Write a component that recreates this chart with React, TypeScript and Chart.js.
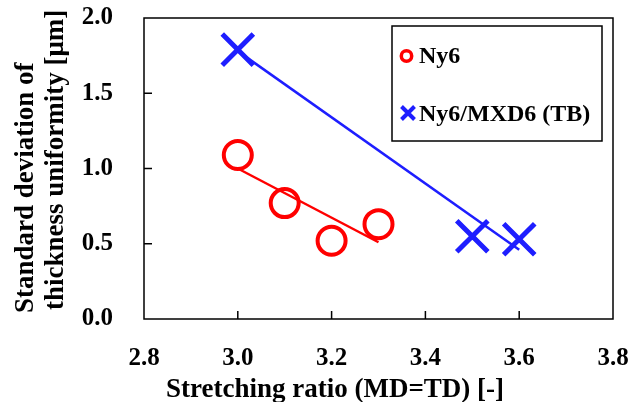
import React, { useEffect, useRef } from 'react';
import { Chart, registerables } from 'chart.js';

Chart.register(...registerables);

// ---- data ----
const ny6X = [3.0, 3.1, 3.2, 3.3];
const ny6Y = [1.09, 0.77, 0.52, 0.63];
const mxdX = [3.0, 3.5, 3.6];
const mxdY = [1.79, 0.55, 0.53];
const ny6TrendX = [3.0, 3.3];
const ny6TrendY = [1.0, 0.51];
const mxdTrendX = [3.0, 3.6];
const mxdTrendY = [1.78, 0.46];
const seriesLabels = ['Ny6', 'Ny6/MXD6 (TB)'];
const xTicks = [2.8, 3.0, 3.2, 3.4, 3.6, 3.8];
const yTicks = [0.0, 0.5, 1.0, 1.5, 2.0];
const xTitle = 'Stretching ratio (MD=TD) [-]';
const yTitle = ['Standard deviation of', 'thickness uniformity [μm]'];

const RED = 'rgb(255,0,0)';
const BLUE = 'rgb(30,30,255)';
const FONT = '"Liberation Serif", "Times New Roman", serif';

const zip = (xs: number[], ys: number[]) => xs.map((x, i) => ({ x, y: ys[i] }));

const decorPlugin = {
  id: 'decor',
  afterDraw(chart: any) {
    const { ctx, chartArea: a, scales } = chart;
    const xs = scales.x;
    const ys = scales.y;
    ctx.save();
    // frame
    ctx.strokeStyle = '#000';
    ctx.lineWidth = 1.5;
    ctx.strokeRect(a.left, a.top, a.right - a.left, a.bottom - a.top);
    // inward ticks
    const tl = 8;
    ctx.beginPath();
    xTicks.forEach((v) => {
      const px = xs.getPixelForValue(v);
      if (px <= a.left + 1 || px >= a.right - 1) return;
      ctx.moveTo(px, a.bottom);
      ctx.lineTo(px, a.bottom - tl);
    });
    yTicks.forEach((v) => {
      const py = ys.getPixelForValue(v);
      if (py <= a.top + 1 || py >= a.bottom - 1) return;
      ctx.moveTo(a.left, py);
      ctx.lineTo(a.left + tl, py);
    });
    ctx.stroke();

    // legend
    const bx = a.right - 221;
    const by = a.top + 8;
    const bw = 210;
    const bh = 115;
    ctx.lineWidth = 1.5;
    ctx.strokeRect(bx, by, bw, bh);
    ctx.font = `bold 24px ${FONT}`;
    ctx.fillStyle = '#000';
    ctx.textAlign = 'left';
    ctx.textBaseline = 'alphabetic';
    // entry 1: circle
    const m1x = bx + 14.5;
    const m1y = by + 30;
    ctx.strokeStyle = RED;
    ctx.lineWidth = 3.5;
    ctx.beginPath();
    ctx.arc(m1x, m1y, 5.2, 0, Math.PI * 2);
    ctx.stroke();
    ctx.fillText(seriesLabels[0], bx + 27, by + 37);
    // entry 2: cross
    const m2x = bx + 16;
    const m2y = by + 87;
    ctx.strokeStyle = BLUE;
    ctx.lineWidth = 4;
    ctx.beginPath();
    ctx.moveTo(m2x - 6.5, m2y - 6.5);
    ctx.lineTo(m2x + 6.5, m2y + 6.5);
    ctx.moveTo(m2x + 6.5, m2y - 6.5);
    ctx.lineTo(m2x - 6.5, m2y + 6.5);
    ctx.stroke();
    ctx.fillText(seriesLabels[1], bx + 27, by + 95);

    // axis titles
    ctx.fillStyle = '#000';
    ctx.font = `bold 27px ${FONT}`;
    ctx.textAlign = 'center';
    ctx.textBaseline = 'alphabetic';
    ctx.fillText(xTitle, a.left + 191, a.bottom + 78);

    ctx.textAlign = 'left';
    const starts = [a.bottom - 6, a.bottom - 9];
    const bases = [33, 63];
    yTitle.forEach((line, i) => {
      ctx.save();
      ctx.translate(bases[i], starts[i]);
      ctx.rotate(-Math.PI / 2);
      ctx.fillText(line, 0, 0);
      ctx.restore();
    });
    ctx.restore();
  },
};

export default function App() {
  const ref = useRef<HTMLCanvasElement | null>(null);
  useEffect(() => {
    document.body.style.margin = '0';
    const canvas = ref.current;
    if (!canvas) return;
    const tickFont = { family: FONT, size: 25, weight: 'bold' as const };
    const chart = new Chart(canvas, {
      type: 'scatter',
      data: {
        datasets: [
          {
            label: seriesLabels[0] + ' trend',
            data: zip(ny6TrendX, ny6TrendY),
            showLine: true,
            borderColor: RED,
            borderWidth: 2.5,
            pointRadius: 0,
          },
          {
            label: seriesLabels[1] + ' trend',
            data: zip(mxdTrendX, mxdTrendY),
            showLine: true,
            borderColor: BLUE,
            borderWidth: 2.5,
            pointRadius: 0,
          },
          {
            label: seriesLabels[0],
            data: zip(ny6X, ny6Y),
            pointStyle: 'circle',
            pointRadius: 14,
            pointBorderWidth: 4,
            pointBorderColor: RED,
            pointBackgroundColor: 'rgba(0,0,0,0)',
            borderColor: RED,
          },
          {
            label: seriesLabels[1],
            data: zip(mxdX, mxdY),
            pointStyle: 'crossRot',
            pointRadius: 22,
            pointBorderWidth: 5,
            pointBorderColor: BLUE,
            borderColor: BLUE,
          },
        ],
      },
      options: {
        responsive: false,
        animation: false,
        layout: { autoPadding: false, padding: { top: 18, right: 15, left: 0, bottom: 0 } },
        plugins: { legend: { display: false }, tooltip: { enabled: false } },
        scales: {
          x: {
            type: 'linear',
            min: xTicks[0],
            max: xTicks[xTicks.length - 1],
            afterBuildTicks: (s: any) => {
              s.ticks = xTicks.map((v) => ({ value: v }));
            },
            afterFit: (s: any) => {
              s.height = 83;
              s.paddingLeft = 0;
              s.paddingRight = 0;
            },
            grid: { display: false, drawTicks: false },
            border: { display: false },
            ticks: {
              padding: 25,
              font: tickFont,
              color: '#000',
              maxRotation: 0,
              autoSkip: false,
              callback: (v: any) => Number(v).toFixed(1),
            },
          },
          y: {
            type: 'linear',
            min: yTicks[0],
            max: yTicks[yTicks.length - 1],
            afterBuildTicks: (s: any) => {
              s.ticks = yTicks.map((v) => ({ value: v }));
            },
            afterFit: (s: any) => {
              s.width = 144;
              s.paddingTop = 0;
              s.paddingBottom = 0;
            },
            grid: { display: false, drawTicks: false },
            border: { display: false },
            ticks: {
              padding: 31,
              font: tickFont,
              color: '#000',
              autoSkip: false,
              callback: (v: any) => Number(v).toFixed(1),
            },
          },
        },
      },
      plugins: [decorPlugin],
    });
    return () => chart.destroy();
  }, []);
  return (
    <div style={{ width: 628, height: 402 }}>
      <canvas ref={ref} width={628} height={402} style={{ display: 'block' }} />
    </div>
  );
}
